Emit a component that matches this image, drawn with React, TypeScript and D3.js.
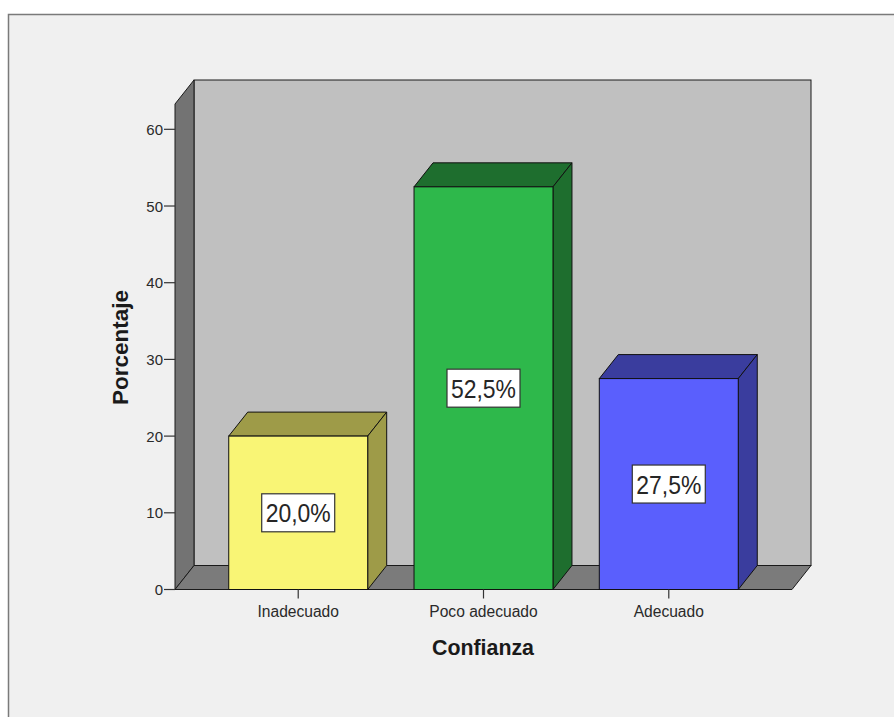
import React from "react";
import * as d3 from "d3";

// Percentage of respondents per level of "Confianza"
const categories: string[] = ["Inadecuado", "Poco adecuado", "Adecuado"];
const percentages: number[] = [20.0, 52.5, 27.5];
const frontColors: string[] = ["#f9f575", "#2eb84b", "#5a5ffd"];
const sideColors: string[] = ["#9e9b48", "#1e6e2e", "#3a3d9e"];
const yTicks: number[] = [0, 10, 20, 30, 40, 50, 60];

const W = 894;
const H = 717;

// front plane of the 3D box and its depth offset
const x0 = 175;
const x1 = 792;
const yBase = 589.5;
const yTop = 104;
const DX = 19;
const DY = 24;

const fmtLocale = d3.formatLocale({
  decimal: ",",
  thousands: ".",
  grouping: [3],
  currency: ["", "€"],
});
const fmtPct = (v: number) => fmtLocale.format(".1f")(v) + "%";

const FONT = "'Liberation Sans', Arial, sans-serif";

export default function App() {
  const x = d3
    .scaleBand<string>()
    .domain(categories)
    .range([x0, x1])
    .paddingInner(0.25)
    .paddingOuter(0.29);
  const y = d3.scaleLinear().domain([0, 63.3]).range([yBase, yTop]);

  const pts = (p: [number, number][]) => p.map((d) => d.join(",")).join(" ");

  return (
    <svg
      width={W}
      height={H}
      style={{ position: "absolute", left: 0, top: 0, display: "block" }}
      fontFamily={FONT}
    >
      <rect x={0} y={0} width={W} height={H} fill="#ffffff" />
      <rect
        x={8.5}
        y={14.5}
        width={W + 20}
        height={H + 20}
        fill="#f0f0f0"
        stroke="#7a7a7a"
        strokeWidth={1.5}
      />

      {/* back wall */}
      <rect
        x={x0 + DX}
        y={yTop - DY}
        width={x1 - x0}
        height={yBase - yTop}
        fill="#c0c0c0"
        stroke="#1a1a1a"
        strokeWidth={1}
      />
      {/* left wall */}
      <polygon
        points={pts([
          [x0, yBase],
          [x0, yTop],
          [x0 + DX, yTop - DY],
          [x0 + DX, yBase - DY],
        ])}
        fill="#737373"
        stroke="#1a1a1a"
        strokeWidth={1}
      />
      {/* floor */}
      <polygon
        points={pts([
          [x0, yBase],
          [x0 + DX, yBase - DY],
          [x1 + DX, yBase - DY],
          [x1, yBase],
        ])}
        fill="#7b7b7b"
        stroke="#1a1a1a"
        strokeWidth={1}
      />

      {/* y axis ticks */}
      {yTicks.map((t) => (
        <g key={t}>
          <line x1={x0 - 11} x2={x0} y1={y(t)} y2={y(t)} stroke="#333" strokeWidth={1.2} />
          <text
            x={x0 - 12}
            y={y(t) + 5.5}
            textAnchor="end"
            fontSize={15}
            fill="#2a2a2a"
          >
            {t}
          </text>
        </g>
      ))}

      {/* bars */}
      {categories.map((c, i) => {
        const bx = x(c) as number;
        const bw = x.bandwidth();
        const v = percentages[i];
        const yv = y(v);
        const y0 = y(0);
        const cx = bx + bw / 2;
        const cy = (yv + y0) / 2;
        return (
          <g key={c}>
            <polygon
              points={pts([
                [bx, yv],
                [bx + DX, yv - DY],
                [bx + bw + DX, yv - DY],
                [bx + bw, yv],
              ])}
              fill={sideColors[i]}
              stroke="#111"
              strokeWidth={1}
              strokeLinejoin="round"
            />
            <polygon
              points={pts([
                [bx + bw, yv],
                [bx + bw + DX, yv - DY],
                [bx + bw + DX, y0 - DY],
                [bx + bw, y0],
              ])}
              fill={sideColors[i]}
              stroke="#111"
              strokeWidth={1}
              strokeLinejoin="round"
            />
            <rect
              x={bx}
              y={yv}
              width={bw}
              height={y0 - yv}
              fill={frontColors[i]}
              stroke="#111"
              strokeWidth={1}
            />
            <rect
              x={cx - 36.5}
              y={cy - 19}
              width={73}
              height={38}
              fill="#ffffff"
              stroke="#333"
              strokeWidth={1.2}
            />
            <text
              x={cx}
              y={cy + 9.5}
              textAnchor="middle"
              fontSize={26}
              fill="#262626"
              textLength={65}
              lengthAdjust="spacingAndGlyphs"
            >
              {fmtPct(v)}
            </text>
            {/* category tick and label */}
            <line x1={cx} x2={cx} y1={y0} y2={y0 + 9} stroke="#333" strokeWidth={1.2} />
            <text
              x={cx}
              y={616.5}
              textAnchor="middle"
              fontSize={15.6}
              fill="#2a2a2a"
            >
              {c}
            </text>
          </g>
        );
      })}

      {/* axis titles */}
      <text
        x={483}
        y={654.5}
        textAnchor="middle"
        fontSize={21.5}
        fontWeight="bold"
        fill="#1a1a1a"
        textLength={102}
        lengthAdjust="spacingAndGlyphs"
      >
        Confianza
      </text>
      <text
        transform={`translate(127.5,347.5) rotate(-90)`}
        textAnchor="middle"
        fontSize={21.5}
        fontWeight="bold"
        fill="#1a1a1a"
        textLength={115}
        lengthAdjust="spacingAndGlyphs"
      >
        Porcentaje
      </text>
    </svg>
  );
}
